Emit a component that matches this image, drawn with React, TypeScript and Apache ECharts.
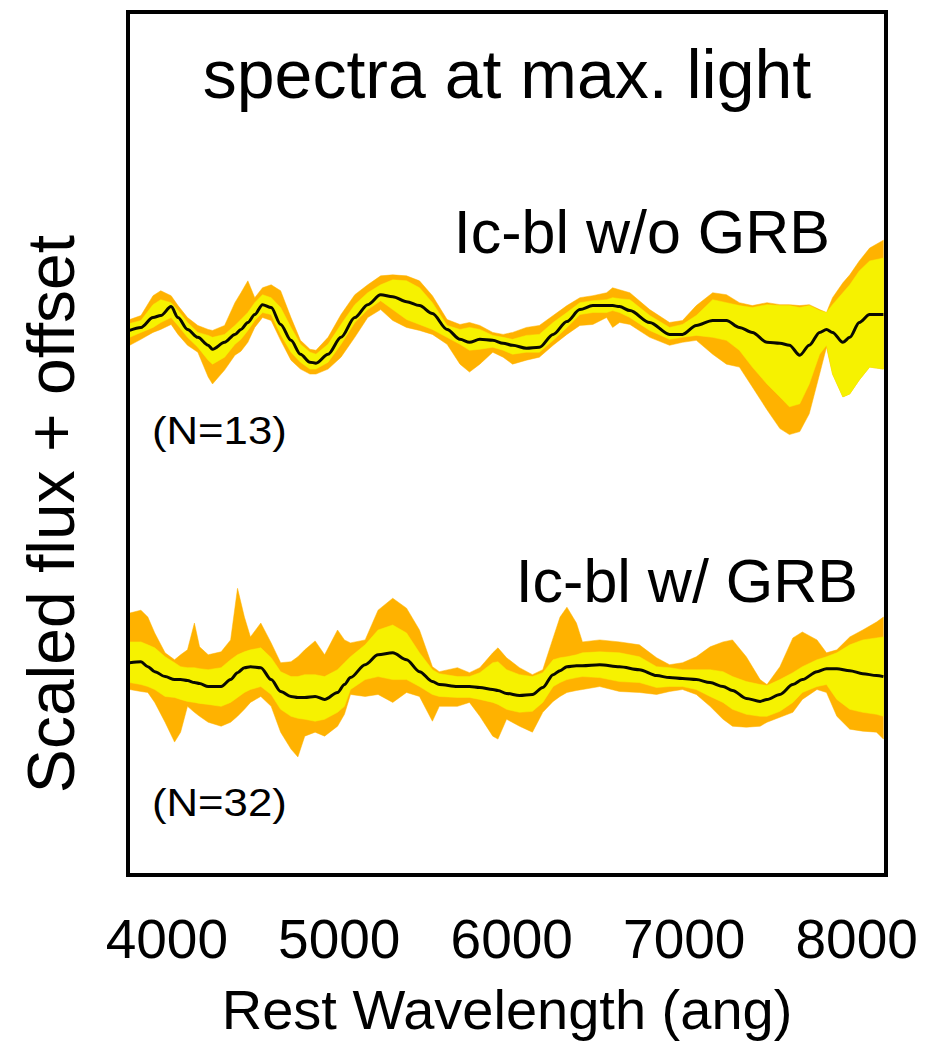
import React, { useEffect, useRef } from "react";
import * as echarts from "echarts";

// Rest wavelength (Å) sample positions for each composite spectrum
const wavelengthTop = [3785, 3850, 3920, 3965, 4025, 4065, 4120, 4180, 4240, 4265, 4335, 4395, 4430, 4470, 4510, 4555, 4605, 4660, 4720, 4775, 4830, 4865, 4935, 5010, 5090, 5165, 5240, 5310, 5390, 5465, 5540, 5625, 5700, 5755, 5815, 5890, 5950, 6005, 6085, 6160, 6240, 6320, 6395, 6470, 6550, 6585, 6625, 6685, 6800, 6915, 6990, 7070, 7165, 7245, 7320, 7395, 7480, 7555, 7610, 7670, 7725, 7785, 7825, 7860, 7920, 7960, 8015, 8075, 8155];

// Ic-bl w/o GRB (N=13): scaled flux + offset
const topOuterHi = [5.60, 5.64, 5.84, 5.89, 5.84, 5.74, 5.62, 5.54, 5.50, 5.49, 5.54, 5.77, 5.87, 5.99, 5.82, 5.92, 5.95, 5.89, 5.62, 5.39, 5.30, 5.29, 5.42, 5.65, 5.85, 5.95, 6.04, 6.05, 6.04, 5.99, 5.84, 5.60, 5.55, 5.57, 5.54, 5.47, 5.45, 5.47, 5.52, 5.54, 5.64, 5.74, 5.82, 5.84, 5.87, 5.92, 5.90, 5.87, 5.70, 5.57, 5.59, 5.74, 5.87, 5.85, 5.77, 5.74, 5.77, 5.75, 5.75, 5.74, 5.75, 5.70, 5.67, 5.82, 5.97, 6.05, 6.19, 6.32, 6.40];
const topInnerHi = [5.56, 5.59, 5.75, 5.80, 5.77, 5.69, 5.57, 5.47, 5.44, 5.42, 5.45, 5.54, 5.60, 5.67, 5.77, 5.85, 5.82, 5.72, 5.52, 5.35, 5.27, 5.25, 5.35, 5.55, 5.75, 5.87, 5.95, 6.00, 5.99, 5.92, 5.77, 5.54, 5.50, 5.52, 5.50, 5.44, 5.42, 5.40, 5.44, 5.45, 5.57, 5.67, 5.77, 5.79, 5.80, 5.82, 5.81, 5.80, 5.64, 5.52, 5.55, 5.64, 5.80, 5.77, 5.74, 5.72, 5.75, 5.74, 5.74, 5.72, 5.74, 5.69, 5.67, 5.75, 5.87, 5.95, 6.09, 6.19, 6.22];
const topMean = [5.49, 5.52, 5.62, 5.64, 5.73, 5.62, 5.50, 5.42, 5.34, 5.30, 5.37, 5.45, 5.50, 5.57, 5.65, 5.75, 5.72, 5.55, 5.39, 5.25, 5.17, 5.16, 5.25, 5.42, 5.62, 5.75, 5.85, 5.83, 5.78, 5.74, 5.66, 5.50, 5.40, 5.37, 5.40, 5.39, 5.36, 5.34, 5.31, 5.32, 5.45, 5.58, 5.70, 5.74, 5.74, 5.74, 5.73, 5.69, 5.57, 5.45, 5.45, 5.54, 5.59, 5.59, 5.52, 5.47, 5.37, 5.36, 5.34, 5.24, 5.34, 5.47, 5.50, 5.47, 5.37, 5.42, 5.57, 5.65, 5.65];
const topInnerLo = [5.42, 5.47, 5.52, 5.57, 5.62, 5.54, 5.42, 5.32, 5.19, 5.15, 5.22, 5.35, 5.40, 5.49, 5.59, 5.67, 5.65, 5.45, 5.27, 5.17, 5.10, 5.10, 5.17, 5.35, 5.57, 5.70, 5.79, 5.70, 5.60, 5.55, 5.50, 5.42, 5.35, 5.29, 5.30, 5.32, 5.29, 5.25, 5.27, 5.27, 5.39, 5.52, 5.65, 5.67, 5.67, 5.69, 5.67, 5.62, 5.49, 5.40, 5.42, 5.44, 5.42, 5.39, 5.29, 5.12, 4.95, 4.82, 4.72, 4.75, 4.95, 5.25, 5.34, 5.05, 4.82, 4.85, 4.99, 5.12, 5.10];
const topOuterLo = [5.34, 5.40, 5.47, 5.50, 5.55, 5.45, 5.34, 5.27, 5.02, 4.95, 5.09, 5.24, 5.28, 5.37, 5.52, 5.62, 5.59, 5.39, 5.19, 5.10, 5.05, 5.05, 5.10, 5.22, 5.42, 5.62, 5.70, 5.59, 5.52, 5.49, 5.45, 5.35, 5.15, 5.07, 5.15, 5.27, 5.22, 5.15, 5.19, 5.22, 5.34, 5.45, 5.54, 5.55, 5.62, 5.52, 5.57, 5.55, 5.42, 5.34, 5.37, 5.39, 5.25, 5.15, 5.12, 4.92, 4.69, 4.50, 4.44, 4.47, 4.65, 5.05, 5.32, 5.05, 4.82, 4.85, 4.99, 5.12, 5.10];

const wavelengthBottom = [3785, 3850, 3890, 3930, 3990, 4045, 4080, 4120, 4160, 4190, 4240, 4315, 4370, 4410, 4450, 4485, 4545, 4605, 4660, 4720, 4760, 4800, 4860, 4915, 4990, 5030, 5065, 5150, 5225, 5310, 5390, 5465, 5540, 5580, 5685, 5755, 5815, 5890, 5920, 5970, 6045, 6120, 6180, 6240, 6280, 6320, 6375, 6410, 6510, 6625, 6740, 6840, 6915, 6990, 7070, 7150, 7225, 7280, 7360, 7440, 7480, 7555, 7630, 7685, 7770, 7825, 7885, 7960, 8035, 8115, 8155];

// Ic-bl w/ GRB (N=32): scaled flux + offset
const botOuterHi = [2.64, 2.67, 2.60, 2.44, 2.24, 2.17, 2.22, 2.27, 2.54, 2.30, 2.22, 2.25, 2.37, 2.89, 2.60, 2.40, 2.54, 2.34, 2.14, 2.15, 2.20, 2.27, 2.36, 2.22, 2.47, 2.37, 2.34, 2.37, 2.67, 2.79, 2.69, 2.47, 2.10, 2.05, 2.09, 2.04, 2.09, 2.24, 2.29, 2.19, 2.09, 2.02, 2.07, 2.39, 2.60, 2.70, 2.54, 2.35, 2.37, 2.35, 2.32, 2.19, 2.12, 2.14, 2.20, 2.30, 2.35, 2.37, 2.20, 1.97, 1.92, 2.10, 2.39, 2.45, 2.37, 2.24, 2.27, 2.40, 2.47, 2.55, 2.60];
const botInnerHi = [2.35, 2.35, 2.32, 2.29, 2.20, 2.14, 2.10, 2.09, 2.09, 2.08, 2.07, 2.09, 2.17, 2.22, 2.25, 2.27, 2.29, 2.19, 2.05, 2.00, 2.00, 2.02, 2.02, 2.00, 2.07, 2.14, 2.20, 2.32, 2.47, 2.52, 2.44, 2.24, 2.07, 2.03, 2.00, 2.00, 2.04, 2.14, 2.15, 2.07, 2.02, 2.00, 2.04, 2.17, 2.19, 2.20, 2.22, 2.24, 2.25, 2.24, 2.20, 2.10, 2.09, 2.07, 2.07, 2.07, 2.05, 2.00, 1.95, 1.92, 1.91, 1.97, 2.04, 2.10, 2.17, 2.20, 2.24, 2.32, 2.37, 2.39, 2.40];
const botMean = [2.14, 2.15, 2.10, 2.05, 2.00, 1.97, 1.97, 1.96, 1.94, 1.93, 1.90, 1.90, 1.97, 2.04, 2.09, 2.10, 2.09, 1.97, 1.85, 1.80, 1.79, 1.79, 1.80, 1.77, 1.84, 1.92, 1.99, 2.12, 2.22, 2.24, 2.17, 2.05, 1.95, 1.92, 1.90, 1.90, 1.89, 1.87, 1.86, 1.83, 1.81, 1.82, 1.89, 2.02, 2.06, 2.10, 2.11, 2.11, 2.12, 2.10, 2.07, 2.01, 1.99, 1.98, 1.97, 1.94, 1.90, 1.86, 1.78, 1.75, 1.77, 1.82, 1.92, 1.97, 2.05, 2.08, 2.08, 2.06, 2.03, 2.01, 2.00];
const botInnerLo = [1.94, 1.92, 1.90, 1.87, 1.80, 1.79, 1.77, 1.75, 1.74, 1.73, 1.72, 1.70, 1.74, 1.79, 1.84, 1.87, 1.90, 1.82, 1.67, 1.60, 1.58, 1.57, 1.55, 1.57, 1.64, 1.70, 1.87, 1.97, 2.00, 1.97, 1.97, 1.90, 1.82, 1.80, 1.79, 1.79, 1.77, 1.74, 1.72, 1.67, 1.64, 1.65, 1.74, 1.90, 1.94, 1.97, 1.99, 2.00, 1.99, 1.95, 1.94, 1.89, 1.90, 1.90, 1.87, 1.80, 1.74, 1.67, 1.62, 1.60, 1.60, 1.65, 1.74, 1.84, 1.90, 1.92, 1.77, 1.67, 1.64, 1.62, 1.60];
const botOuterLo = [1.87, 1.85, 1.84, 1.74, 1.54, 1.34, 1.44, 1.70, 1.64, 1.60, 1.54, 1.50, 1.54, 1.60, 1.67, 1.74, 1.80, 1.70, 1.44, 1.27, 1.19, 1.40, 1.44, 1.40, 1.50, 1.62, 1.82, 1.80, 1.82, 1.74, 1.84, 1.80, 1.55, 1.70, 1.70, 1.74, 1.60, 1.40, 1.37, 1.57, 1.50, 1.44, 1.64, 1.75, 1.80, 1.84, 1.86, 1.87, 1.90, 1.85, 1.84, 1.82, 1.85, 1.87, 1.82, 1.70, 1.57, 1.50, 1.49, 1.50, 1.54, 1.59, 1.64, 1.77, 1.87, 1.84, 1.60, 1.47, 1.45, 1.44, 1.37];

const xTicks = [4000, 5000, 6000, 7000, 8000];

const ORANGE = "#FFB200";
const YELLOW = "#F6F200";
const FONT = "'Liberation Sans', Arial, Helvetica, sans-serif";

function pairs(xs: number[], ys: number[]) {
  return xs.map((x, i) => [x, ys[i]]);
}

// Filled band between lo[] and hi[], drawn through the cartesian scales
function bandSeries(name: string, xs: number[], lo: number[], hi: number[], color: string) {
  return {
    type: "custom",
    name,
    coordinateSystem: "cartesian2d",
    silent: true,
    clip: true,
    data: [[xs[0], lo[0]]],
    renderItem: (_params: any, api: any) => {
      const pts: number[][] = [];
      for (let i = 0; i < xs.length; i++) pts.push(api.coord([xs[i], hi[i]]));
      for (let i = xs.length - 1; i >= 0; i--) pts.push(api.coord([xs[i], lo[i]]));
      return {
        type: "polygon",
        shape: { points: pts },
        style: { fill: color, stroke: color, lineWidth: 0.5 },
      };
    },
  };
}

function meanSeries(name: string, xs: number[], ys: number[]) {
  return {
    type: "line",
    name,
    data: pairs(xs, ys),
    symbol: "none",
    showSymbol: false,
    smooth: 0.3,
    smoothMonotone: "x",
    lineStyle: { color: "#0a0a00", width: 3 },
    silent: true,
  };
}

export default function App() {
  const ref = useRef<HTMLDivElement>(null);
  useEffect(() => {
    if (!ref.current) return;
    const chart = echarts.init(ref.current, undefined, { renderer: "svg" });
    const option: any = {
      animation: false,
      backgroundColor: "#fff",
      grid: {
        left: 128,
        top: 12,
        width: 758,
        height: 870,
        show: true,
        borderColor: "#000",
        borderWidth: 4,
        backgroundColor: "transparent",
        containLabel: false,
        z: 10,
      },
      xAxis: {
        type: "value",
        min: 3775,
        max: 8170,
        axisLine: { show: false },
        axisTick: { show: false },
        splitLine: { show: false },
        axisLabel: {
          customValues: xTicks,
          formatter: (v: number) => String(v),
          color: "#000",
          fontSize: 55,
          fontFamily: FONT,
          margin: 36,
        },
        name: "Rest Wavelength (ang)",
        nameLocation: "middle",
        nameGap: 106,
        nameTextStyle: { color: "#000", fontSize: 56, fontFamily: FONT },
      },
      yAxis: {
        type: "value",
        min: 0,
        max: 8.7,
        show: false,
        splitLine: { show: false },
      },
      series: [
        bandSeries("topOuter", wavelengthTop, topOuterLo, topOuterHi, ORANGE),
        bandSeries("topInner", wavelengthTop, topInnerLo, topInnerHi, YELLOW),
        meanSeries("Ic-bl w/o GRB", wavelengthTop, topMean),
        bandSeries("botOuter", wavelengthBottom, botOuterLo, botOuterHi, ORANGE),
        bandSeries("botInner", wavelengthBottom, botInnerLo, botInnerHi, YELLOW),
        meanSeries("Ic-bl w/ GRB", wavelengthBottom, botMean),
      ],
      graphic: [
        {
          type: "text",
          z: 100,
          x: 507,
          y: 74,
          style: { text: "spectra at max. light", fill: "#000", fontSize: 68, fontFamily: FONT, align: "center", verticalAlign: "middle" },
        },
        {
          type: "text",
          z: 100,
          x: 830,
          y: 232,
          style: { text: "Ic-bl w/o GRB", fill: "#000", fontSize: 61, fontFamily: FONT, align: "right", verticalAlign: "middle" },
        },
        {
          type: "text",
          z: 100,
          x: 858,
          y: 581,
          style: { text: "Ic-bl w/ GRB", fill: "#000", fontSize: 61, fontFamily: FONT, align: "right", verticalAlign: "middle" },
        },
        {
          type: "text",
          z: 100,
          x: 152,
          y: 431,
          scaleX: 1.15,
          style: { text: "(N=13)", fill: "#000", fontSize: 38, fontFamily: FONT, align: "left", verticalAlign: "middle" },
        },
        {
          type: "text",
          z: 100,
          x: 152,
          y: 803,
          scaleX: 1.15,
          style: { text: "(N=32)", fill: "#000", fontSize: 38, fontFamily: FONT, align: "left", verticalAlign: "middle" },
        },
        {
          type: "text",
          z: 100,
          x: 51,
          y: 514,
          rotation: Math.PI / 2,
          style: { text: "Scaled flux + offset", fill: "#000", fontSize: 66, fontFamily: FONT, align: "center", verticalAlign: "middle" },
        },
      ],
    };
    chart.setOption(option);
    return () => chart.dispose();
  }, []);
  return (
    <div
      ref={ref}
      style={{ position: "fixed", left: 0, top: 0, width: 927, height: 1042, background: "#fff" }}
    />
  );
}
